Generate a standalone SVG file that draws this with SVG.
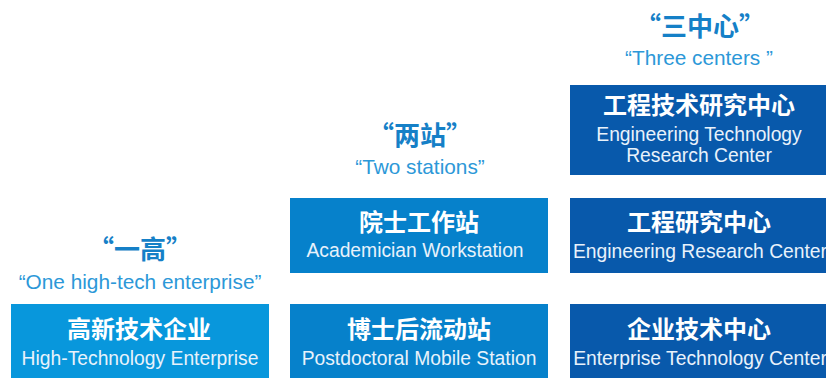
<svg xmlns="http://www.w3.org/2000/svg" width="826" height="378" viewBox="0 0 826 378">
<style>
.t{font-family:"Noto Sans CJK SC",sans-serif;font-weight:bold;font-size:26px;fill:#1580c7;text-anchor:middle}
.s{font-family:"Liberation Sans","Noto Sans CJK SC",sans-serif;font-size:20.8px;fill:#2c98d8;text-anchor:middle}
.cn{font-family:"Noto Sans CJK SC",sans-serif;font-weight:bold;font-size:24px;fill:#fff;text-anchor:middle}
.en{font-family:"Liberation Sans",sans-serif;font-size:19.3px;fill:#e8f2fb;text-anchor:middle}
.c1{fill:#0897dc}.c2{fill:#0681cb}.c3{fill:#0859ab}
</style>
<rect width="826" height="378" fill="#fff"/>
<g id="label-one">
<text class="t" x="140" y="259">“一高”</text>
<text class="s" x="140" y="289">“One high-tech enterprise”</text>
</g>
<g id="label-two">
<text class="t" x="420" y="145">“两站”</text>
<text class="s" x="420" y="174">“Two stations”</text>
</g>
<g id="label-three">
<text class="t" x="700" y="36">“三中心”</text>
<text class="s" x="699" y="65">“Three centers ”</text>
</g>
<g id="node-high-tech">
<rect class="c1" x="11" y="304" width="258" height="74"/>
<text class="cn" x="139" y="338">高新技术企业</text>
<text class="en" x="140" y="365">High-Technology Enterprise</text>
</g>
<g id="node-academician">
<rect class="c2" x="290" y="198" width="258" height="75"/>
<text class="cn" x="419" y="231">院士工作站</text>
<text class="en" x="415" y="257">Academician Workstation</text>
</g>
<g id="node-postdoctoral">
<rect class="c2" x="290" y="304" width="258" height="74"/>
<text class="cn" x="419" y="338">博士后流动站</text>
<text class="en" x="419" y="365">Postdoctoral Mobile Station</text>
</g>
<g id="node-eng-tech">
<rect class="c3" x="570" y="85" width="256" height="90"/>
<text class="cn" x="699" y="114">工程技术研究中心</text>
<text class="en" x="699" y="141">Engineering Technology</text>
<text class="en" x="699" y="162">Research Center</text>
</g>
<g id="node-eng-research">
<rect class="c3" x="570" y="198" width="256" height="75"/>
<text class="cn" x="699" y="231">工程研究中心</text>
<text class="en" x="700" y="258">Engineering Research Center</text>
</g>
<g id="node-enterprise-tech">
<rect class="c3" x="570" y="304" width="256" height="74"/>
<text class="cn" x="699" y="338">企业技术中心</text>
<text class="en" x="700" y="365">Enterprise Technology Center</text>
</g>
<g id="connectors"></g>
</svg>
